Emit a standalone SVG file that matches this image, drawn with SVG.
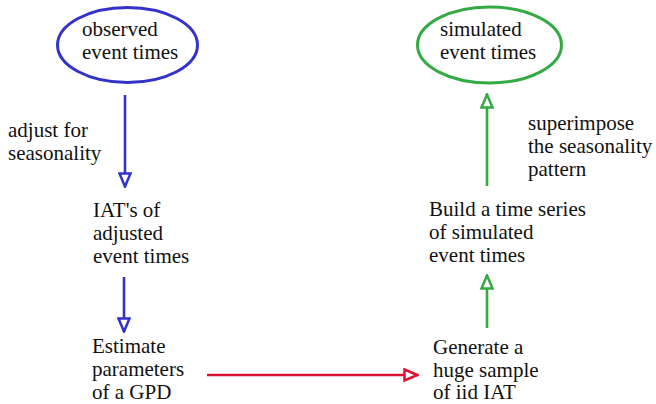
<svg xmlns="http://www.w3.org/2000/svg" width="656" height="404" viewBox="0 0 656 404">
<style>
.t{font-family:'Liberation Serif','DejaVu Serif',serif;font-size:21px;fill:#111}
.b{stroke:#3333cc}
.g{stroke:#33aa44}
.r{stroke:#dd1133}
.ln{stroke-width:2.6;fill:none}
</style>
<defs>
<marker id="ab" viewBox="0 0 16 14" refX="15" refY="7" markerWidth="16" markerHeight="14" markerUnits="userSpaceOnUse" orient="auto"><path d="M1.5,1.5 L14.5,7 L1.5,12.5 Z" fill="#fff" stroke="#3333cc" stroke-width="2.5"/></marker>
<marker id="ag" viewBox="0 0 16 14" refX="15" refY="7" markerWidth="16" markerHeight="14" markerUnits="userSpaceOnUse" orient="auto"><path d="M1.5,1.5 L14.5,7 L1.5,12.5 Z" fill="#fff" stroke="#33aa44" stroke-width="2.5"/></marker>
<marker id="ar" viewBox="0 0 16 14" refX="15" refY="7" markerWidth="16" markerHeight="14" markerUnits="userSpaceOnUse" orient="auto"><path d="M1.5,1.5 L14.5,7 L1.5,12.5 Z" fill="#fff" stroke="#dd1133" stroke-width="2.5"/></marker>
</defs>
<rect width="656" height="404" fill="#fff"/>
<g id="connectors">
<line class="b ln" x1="125" y1="95" x2="125" y2="187" marker-end="url(#ab)"/>
<line class="b ln" x1="124" y1="277" x2="124" y2="332" marker-end="url(#ab)"/>
<line class="r ln" x1="207" y1="375" x2="418" y2="375" marker-end="url(#ar)"/>
<line class="g ln" x1="487" y1="328" x2="487" y2="275" marker-end="url(#ag)"/>
<line class="g ln" x1="487" y1="186" x2="487" y2="94" marker-end="url(#ag)"/>
<text class="t" x="8" y="137">adjust for</text>
<text class="t" x="8" y="160">seasonality</text>
<text class="t" x="528" y="130">superimpose</text>
<text class="t" x="528" y="153">the seasonality</text>
<text class="t" x="528" y="176">pattern</text>
</g>
<g id="observed">
<ellipse cx="127.5" cy="45" rx="70" ry="37.5" fill="none" stroke="#3333cc" stroke-width="3"/>
<text class="t" x="82" y="36">observed</text>
<text class="t" x="82" y="59">event times</text>
</g>
<g id="simulated">
<ellipse cx="489.5" cy="45" rx="72" ry="38" fill="none" stroke="#33aa44" stroke-width="3"/>
<text class="t" x="440" y="36">simulated</text>
<text class="t" x="440" y="59">event times</text>
</g>
<g id="iat">
<text class="t" x="93" y="217">IAT's of</text>
<text class="t" x="93" y="240">adjusted</text>
<text class="t" x="93" y="263">event times</text>
</g>
<g id="estimate">
<text class="t" x="92" y="353">Estimate</text>
<text class="t" x="92" y="376">parameters</text>
<text class="t" x="92" y="399">of a GPD</text>
</g>
<g id="generate">
<text class="t" x="433" y="354">Generate a</text>
<text class="t" x="433" y="377">huge sample</text>
<text class="t" x="433" y="399">of iid IAT</text>
</g>
<g id="build">
<text class="t" x="429" y="216">Build a time series</text>
<text class="t" x="429" y="239">of simulated</text>
<text class="t" x="429" y="262">event times</text>
</g>
</svg>
